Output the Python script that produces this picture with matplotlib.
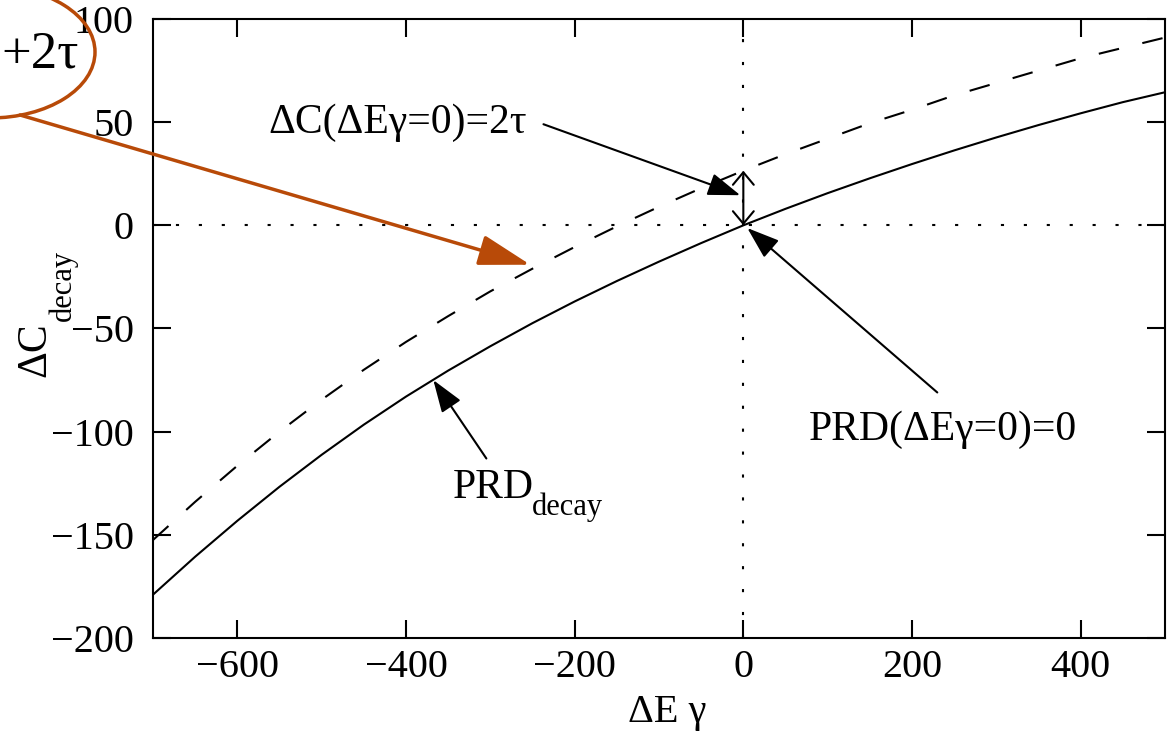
import matplotlib.pyplot as plt
from matplotlib.patches import Ellipse
from matplotlib.transforms import Affine2D

plt.rcParams['font.family'] = ['Liberation Serif', 'DejaVu Serif']

# values
delta_e = [-700, -650, -600, -550, -500, -450, -400, -350, -300, -250, -200, -150,
           -100, -50, 0, 50, 100, 150, 200, 250, 300, 350, 400, 450, 500]
prd_decay = [-179.0, -160.6, -143.2, -126.7, -111.2, -96.6, -83.0, -70.4, -58.6,
             -47.4, -36.9, -27.0, -17.6, -8.6, 0.0, 8.0, 15.6, 22.8, 29.7, 36.3,
             42.6, 48.6, 54.3, 59.7, 64.5]
dc_decay = [-152.5, -134.0, -116.5, -100.0, -84.5, -70.0, -56.5, -44.0, -32.0,
            -21.0, -10.5, -0.5, 9.0, 18.0, 26.5, 34.5, 42.0, 49.5, 56.0, 63.0,
            69.0, 75.0, 81.0, 86.0, 91.0]
two_tau = 26.5

x_ticks = [-600, -400, -200, 0, 200, 400]
y_ticks = [-200, -150, -100, -50, 0, 50, 100]

W, H = 1171, 737
ORANGE = "#B84A08"
FS = 30

fig = plt.figure(figsize=(W / 100, H / 100), dpi=100)
ax = fig.add_axes([153 / W, 1 - 638 / H, (1165 - 153) / W, (638 - 19) / H])

# pixel coordinates of the picture (origin top left)
px = Affine2D().scale(1 / W, -1 / H).translate(0, 1) + fig.transFigure

# zero axes, dotted
ax.axhline(0, color="black", lw=1.5, ls=(0, (1.5, 9.5)))
ax.axvline(0, color="black", lw=1.5, ls=(0, (1.5, 9.5)))

# curves
ax.plot(delta_e, dc_decay, color="black", lw=1.5, ls=(0, (10, 11.5)))
ax.plot(delta_e, prd_decay, color="black", lw=1.5)

ax.set_xlim(-700, 500)
ax.set_ylim(-200, 100)
ax.set_xticks(x_ticks)
ax.set_yticks(y_ticks)

for s in ax.spines.values():
    s.set_linewidth(1.5)

ax.tick_params(direction="in", length=13, width=1.5, top=True, right=True,
               labelsize=29)
ax.tick_params(axis="y", pad=14)
ax.tick_params(axis="x", pad=8)

# axis labels
fig.text(667, 722, "ΔE γ", transform=px, fontsize=29, ha="center", va="baseline")
fig.text(54, 350, "ΔC", transform=px, fontsize=FS, rotation=90,
         ha="right", va="center")
fig.text(78, 285, "decay", transform=px, fontsize=22, rotation=90,
         ha="right", va="center")

# double arrow 2 tau at zero
ax.annotate("", xy=(0, two_tau), xytext=(0, 0),
            arrowprops=dict(arrowstyle="<->,head_length=9,head_width=7.5",
                            mutation_scale=1, color="black", lw=1.5,
                            shrinkA=0, shrinkB=0))

arrow_black = dict(arrowstyle="-|>,head_length=20,head_width=7",
                   mutation_scale=1, color="black", lw=1.5,
                   shrinkA=0, shrinkB=0)

ax.text(-563, 45, "ΔC(ΔEγ=0)=2τ", fontsize=FS, ha="left", va="baseline")
ax.annotate("", xy=(-3.6, 14.6), xytext=(-237, 49), arrowprops=arrow_black)

ax.text(77, -104, "PRD(ΔEγ=0)=0", fontsize=FS, ha="left", va="baseline")
ax.annotate("", xy=(4.7, -1.3), xytext=(230, -81), arrowprops=arrow_black)

fig.text(453, 498, "PRD", transform=px, fontsize=FS, ha="left", va="baseline")
fig.text(532, 515, "decay", transform=px, fontsize=22, ha="left", va="baseline")
ax.annotate("", xy=(-367.6, -75), xytext=(-304.7, -113), arrowprops=arrow_black)

# orange callout at top left
fig.add_artist(Ellipse((-10, 52), 210, 132, transform=px, fill=False,
                       edgecolor=ORANGE, lw=2.5))
fig.text(79, 68, "+2τ", transform=px, fontsize=38, ha="right", va="baseline")
ax.annotate("", xy=(-252.6, -19.1), xytext=(20, 115), textcoords=px,
            arrowprops=dict(arrowstyle="-|>,head_length=32,head_width=9.5",
                            mutation_scale=1, color=ORANGE, lw=2.5,
                            shrinkA=0, shrinkB=0))

fig.savefig("out.png", dpi=100)
